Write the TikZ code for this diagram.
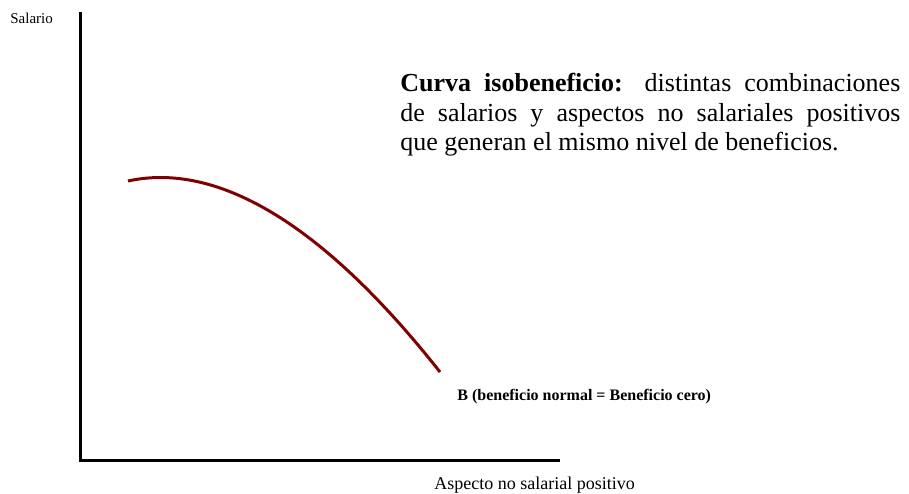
\documentclass[tikz,border=0pt]{standalone}
\usepackage{fontspec}
\setmainfont{Liberation Serif}
\tikzset{every picture/.style={line width=0.75pt}}
\begin{document}
\begin{tikzpicture}[x=1pt,y=1pt,yscale=-1,xscale=1]
\useasboundingbox (0,0) rectangle (909,494);

% Axes
\coordinate (ytop) at (80.5,12);
\coordinate (origin) at (80.5,460.5);
\coordinate (xend) at (560,460.5);
\draw [line width=3.5pt] (ytop) -- (origin) -- (xend) ;

% Curva isobeneficio
\coordinate (cstart) at (128,181);
\coordinate (cend) at (440,372);
\draw [color={rgb,255:red,128;green,0;blue,0}, line width=3pt] (cstart) .. controls (215,162) and (320,220) .. (cend) ;

% Text Node
\node (ylabel) at (10,24) [anchor=base west][inner sep=0pt][font=\fontsize{15}{17}\selectfont] {Salario};
% Text Node
\node (xlabel) at (434,489) [anchor=base west][inner sep=0pt][font=\fontsize{18}{20}\selectfont] {Aspecto no salarial positivo};
% Text Node
\node (blabel) at (457,400) [anchor=base west][inner sep=0pt][font=\fontsize{16}{18}\selectfont\bfseries] {B (beneficio normal = Beneficio cero)};
% Text Node
\node (defn) at (400,73) [anchor=north west][inner sep=0pt][text width=500pt, align=justify][font=\fontsize{26}{29.5}\selectfont] {\textbf{Curva isobeneficio:} distintas combinaciones\linebreak de salarios y aspectos no salariales positivos\linebreak que generan el mismo nivel de beneficios.};

\end{tikzpicture}
\end{document}
